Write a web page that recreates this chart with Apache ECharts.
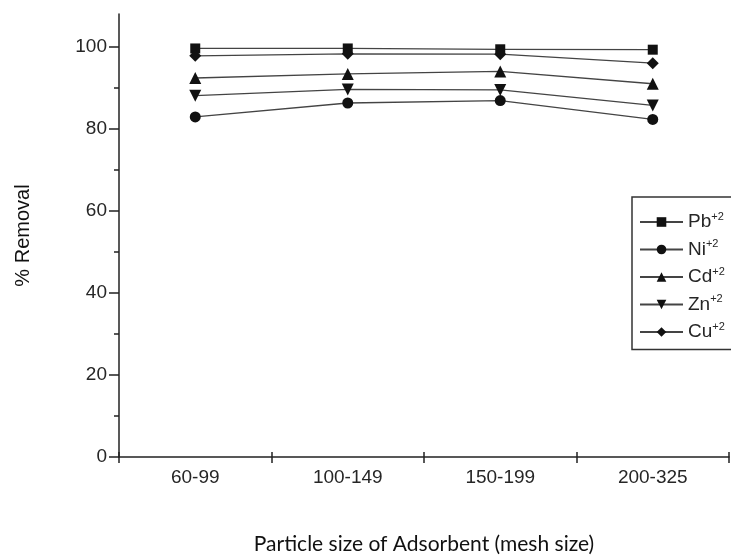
<!DOCTYPE html>
<html>
<head>
<meta charset="utf-8">
<script src="https://cdn.jsdelivr.net/npm/echarts@6/dist/echarts.min.js"></script>
<style>html,body{margin:0;padding:0;background:#fff;}#c{width:731px;height:560px;}</style>
</head>
<body>
<div id="c"></div>
<script>
var categories = ['60-99', '100-149', '150-199', '200-325'];
var seriesNames = ['Pb', 'Ni', 'Cd', 'Zn', 'Cu'];
var pb = [99.6, 99.6, 99.4, 99.3];
var ni = [82.9, 86.3, 86.9, 82.3];
var cd = [92.4, 93.4, 94.0, 91.0];
var zn = [88.1, 89.6, 89.5, 85.7];
var cu = [97.8, 98.3, 98.2, 96.0];
var majorTicks = [0, 20, 40, 60, 80, 100];
var minorTicks = [10, 30, 50, 70, 90];

var symbols = ['rect', 'circle', 'triangle', 'triangle', 'diamond'];
var rotates = [0, 0, 0, 180, 0];
var sizes = [10, 11, 12, 12, 12];
var values = [pb, ni, cd, zn, cu];

var chart = echarts.init(document.getElementById('c'), null, {renderer: 'canvas'});
var txt = '#262626';
var axisCol = '#222';
var ff = '"Liberation Sans", Arial, sans-serif';
var series = seriesNames.map(function (n, i) {
  return {
    name: n,
    type: 'line',
    data: values[i],
    symbol: symbols[i],
    symbolRotate: rotates[i],
    symbolSize: sizes[i],
    showAllSymbol: true,
    lineStyle: {color: '#444', width: 1.3},
    itemStyle: {color: '#111'},
    z: 5
  };
});

chart.setOption({
  animation: false,
  backgroundColor: '#fff',
  textStyle: {fontFamily: ff},
  grid: {left: 119, right: 2, top: 14, bottom: 101, containLabel: false},
  legend: {
    orient: 'vertical',
    left: 632,
    top: 197,
    padding: [14, 60, 8, 7],
    itemWidth: 43,
    itemHeight: 12,
    itemGap: 7,
    itemTextGap: 5,
    borderColor: '#333',
    borderWidth: 1.5,
    data: seriesNames,
    formatter: function (n) { return '{n|' + n + '}{s|+2}'; },
    textStyle: {
      color: txt,
      fontFamily: ff,
      rich: {
        n: {fontFamily: ff, fontSize: 19, color: txt, lineHeight: 22},
        s: {fontFamily: ff, fontSize: 11, color: txt, verticalAlign: 'top', lineHeight: 22, padding: [0, 0, 9, 0]}
      }
    }
  },
  xAxis: [{
    type: 'category',
    data: categories,
    boundaryGap: true,
    name: 'Particle size of Adsorbent (mesh size)',
    nameLocation: 'middle',
    nameGap: 77,
    nameTextStyle: {fontFamily: 'Lato', fontSize: 21, color: '#111'},
    axisLine: {lineStyle: {color: axisCol, width: 1.5}},
    axisTick: {show: true, alignWithLabel: false, length: 6, lineStyle: {color: axisCol, width: 1.5}},
    axisLabel: {fontFamily: ff, fontSize: 19, color: txt, margin: 11},
    splitLine: {show: false}
  }, {
    type: 'category',
    data: categories,
    position: 'bottom',
    boundaryGap: true,
    axisLine: {show: false},
    axisTick: {show: true, inside: true, length: 5, lineStyle: {color: axisCol, width: 1.5}},
    axisLabel: {show: false},
    splitLine: {show: false}
  }],
  yAxis: [{
    type: 'value',
    min: 0,
    max: 108,
    name: '% Removal',
    nameLocation: 'middle',
    nameGap: 86,
    nameTextStyle: {fontFamily: ff, fontSize: 20, color: '#111'},
    axisLine: {show: true, lineStyle: {color: axisCol, width: 1.5}},
    axisTick: {show: true, length: 10, customValues: majorTicks, lineStyle: {color: axisCol, width: 1.5}},
    axisLabel: {fontFamily: ff, fontSize: 19, color: txt, margin: 12, customValues: majorTicks},
    splitLine: {show: false}
  }, {
    type: 'value',
    min: 0,
    max: 108,
    position: 'left',
    axisLine: {show: false},
    axisTick: {show: true, length: 5, customValues: minorTicks, lineStyle: {color: axisCol, width: 1.5}},
    axisLabel: {show: false, customValues: minorTicks},
    splitLine: {show: false}
  }],
  series: series
});
</script>
</body>
</html>
